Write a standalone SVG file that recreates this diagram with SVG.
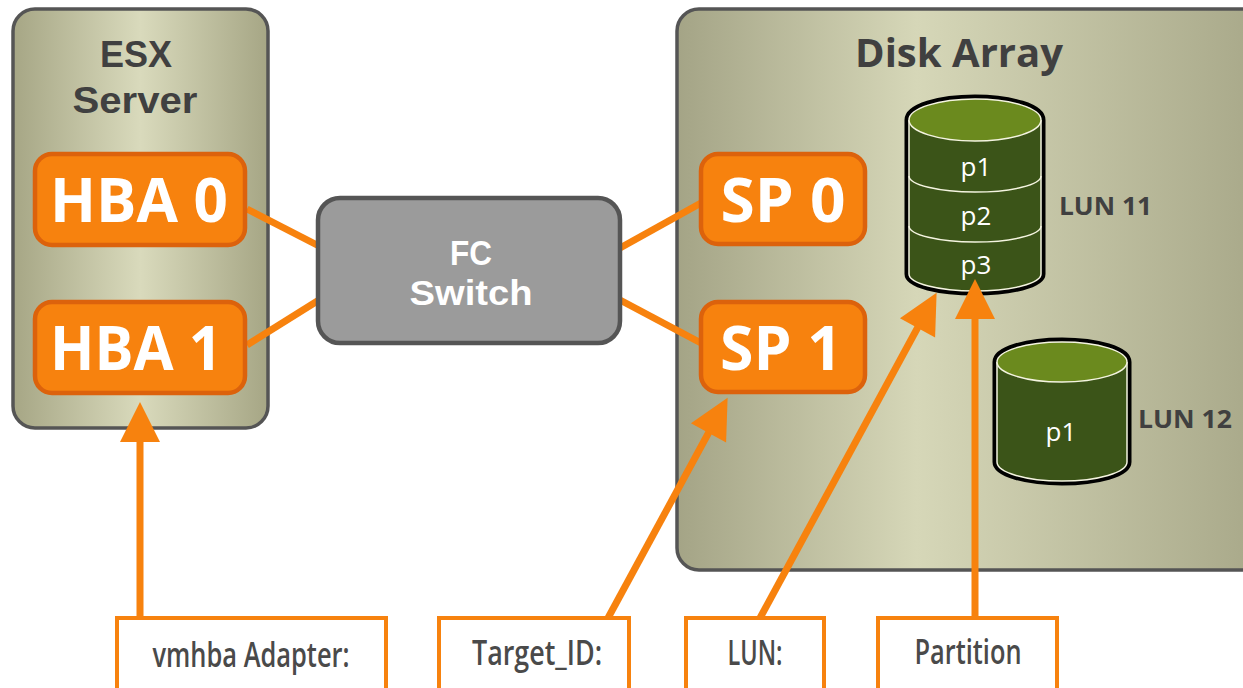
<svg xmlns="http://www.w3.org/2000/svg" width="1243" height="688" viewBox="0 0 1243 688">
<defs>
<linearGradient id="gEsx" x1="0" y1="0" x2="1" y2="0">
<stop offset="0" stop-color="#a6a685"/><stop offset="0.5" stop-color="#d9dabc"/><stop offset="1" stop-color="#a6a685"/>
</linearGradient>
<linearGradient id="gDisk" x1="0" y1="0" x2="1" y2="0">
<stop offset="0" stop-color="#a4a486"/><stop offset="0.4" stop-color="#d6d7b8"/><stop offset="1" stop-color="#a6a687"/>
</linearGradient>
<marker id="ah" viewBox="0 -20 42 40" markerWidth="42" markerHeight="40" refX="1" refY="0" orient="auto" markerUnits="userSpaceOnUse" overflow="visible">
<path d="M0,-20 L40,0 L0,20 Z" fill="#f7820e"/>
</marker>
<style>
.cont{stroke:#555;stroke-width:3.5}
.title{font-family:"Open Sans","DejaVu Sans",sans-serif;font-weight:700;fill:#404040;text-anchor:middle}
.title2{font-family:"Liberation Sans",Arial,sans-serif;font-weight:700;fill:#404040;text-anchor:middle;font-size:37px}
.ob{fill:#f7820e;stroke:#dc620c;stroke-width:4.5}
.obt{font-family:"Open Sans","DejaVu Sans",sans-serif;font-weight:700;fill:#fff;text-anchor:middle;font-size:60px}
.sw{fill:#9b9b9b;stroke:#555;stroke-width:4.5}
.swt{font-family:"Liberation Sans",Arial,sans-serif;font-weight:700;fill:#fff;text-anchor:middle;font-size:35px}
.body{fill:#3b5418}
.topf{fill:#6b8a1e;stroke:#f4f4e0;stroke-width:1.5}
.outl{fill:none;stroke:#000;stroke-width:9}
.inl{fill:none;stroke:#f4f4e0;stroke-width:1.5}
.pt{font-family:"Open Sans","DejaVu Sans",sans-serif;fill:#fff;text-anchor:middle;font-size:26px}
.lun{font-family:"Open Sans","DejaVu Sans",sans-serif;font-weight:700;fill:#404040;font-size:25px}
.line{stroke:#f7820e;stroke-width:7;fill:none}
.arr{stroke:#f7820e;stroke-width:7;fill:none;marker-end:url(#ah)}
.lb{fill:#fff;stroke:#f7820e;stroke-width:4}
.lbt{font-family:"Open Sans","DejaVu Sans",sans-serif;font-weight:600;fill:#4a4a4a;text-anchor:middle;font-size:34px}
</style>
</defs>
<rect width="1243" height="688" fill="#fff"/>

<g id="esx-server">
<rect class="cont" x="13" y="9" width="255" height="419" rx="22" fill="url(#gEsx)"/>
<text class="title2" x="136" y="67" textLength="72" lengthAdjust="spacingAndGlyphs">ESX</text>
<text class="title2" x="135" y="113" textLength="125" lengthAdjust="spacingAndGlyphs">Server</text>
</g>

<g id="disk-array">
<rect class="cont" x="677" y="9" width="600" height="561" rx="22" fill="url(#gDisk)"/>
<text class="title" x="959" y="67" font-size="40" textLength="208" lengthAdjust="spacingAndGlyphs">Disk Array</text>
</g>

<g id="connectors">
<line class="line" x1="247" y1="209" x2="319" y2="246"/>
<line class="line" x1="247" y1="345" x2="319" y2="300"/>
<line class="line" x1="620" y1="248" x2="701" y2="203"/>
<line class="line" x1="620" y1="300" x2="701" y2="343"/>
</g>

<g id="hba0">
<rect class="ob" x="35" y="154" width="210" height="91" rx="17"/>
<text class="obt" x="139" y="222" textLength="178" lengthAdjust="spacingAndGlyphs">HBA 0</text>
</g>
<g id="hba1">
<rect class="ob" x="35" y="302" width="210" height="91" rx="17"/>
<text class="obt" x="136" y="370" textLength="172" lengthAdjust="spacingAndGlyphs">HBA 1</text>
</g>

<g id="fc-switch">
<rect class="sw" x="318" y="198" width="302" height="145" rx="22"/>
<text class="swt" x="471" y="265" textLength="42" lengthAdjust="spacingAndGlyphs">FC</text>
<text class="swt" x="471" y="305" textLength="123" lengthAdjust="spacingAndGlyphs">Switch</text>
</g>

<g id="sp0">
<rect class="ob" x="701" y="154" width="164" height="90" rx="17"/>
<text class="obt" x="783" y="222" textLength="125" lengthAdjust="spacingAndGlyphs">SP 0</text>
</g>
<g id="sp1">
<rect class="ob" x="701" y="302" width="164" height="90" rx="17"/>
<text class="obt" x="781" y="370" textLength="122" lengthAdjust="spacingAndGlyphs">SP 1</text>
</g>

<g id="lun11">
<path class="outl" d="M909,120 V274 A66,17 0 0 0 1041,274 V120 A66,21 0 0 0 909,120 Z"/>
<path class="body" d="M909,120 V274 A66,17 0 0 0 1041,274 V120 Z"/>
<path class="inl" d="M909,120 V274 A66,17 0 0 0 1041,274 V120"/>
<ellipse class="topf" cx="975" cy="120" rx="66" ry="21"/>
<path class="inl" d="M909,176 A66,16 0 0 0 1041,176"/>
<path class="inl" d="M909,226 A66,16 0 0 0 1041,226"/>
<text class="pt" x="976" y="176">p1</text>
<text class="pt" x="976" y="225">p2</text>
<text class="pt" x="976" y="274">p3</text>
<text class="lun" x="1059" y="215" textLength="93" lengthAdjust="spacingAndGlyphs">LUN 11</text>
</g>

<g id="lun12">
<path class="outl" d="M997,362 V462 A65,19 0 0 0 1127,462 V362 A65,20 0 0 0 997,362 Z"/>
<path class="body" d="M997,362 V462 A65,19 0 0 0 1127,462 V362 Z"/>
<path class="inl" d="M997,362 V462 A65,19 0 0 0 1127,462 V362"/>
<ellipse class="topf" cx="1062" cy="362" rx="65" ry="20"/>
<text class="pt" x="1061" y="441">p1</text>
<text class="lun" x="1138" y="428" textLength="94" lengthAdjust="spacingAndGlyphs">LUN 12</text>
</g>

<g id="label-connectors">
<line class="arr" x1="140" y1="618" x2="140" y2="441"/>
<line class="arr" x1="608" y1="618" x2="709" y2="432"/>
<line class="arr" x1="760" y1="618" x2="918" y2="327"/>
<line class="arr" x1="975" y1="618" x2="975" y2="318"/>
</g>

<g id="label-vmhba">
<rect class="lb" x="117" y="618" width="269" height="80"/>
<text class="lbt" x="251" y="667" textLength="197" lengthAdjust="spacingAndGlyphs">vmhba Adapter:</text>
</g>
<g id="label-target">
<rect class="lb" x="439" y="618" width="190" height="80"/>
<text class="lbt" x="537" y="665" textLength="130" lengthAdjust="spacingAndGlyphs">Target_ID:</text>
</g>
<g id="label-lun">
<rect class="lb" x="686" y="618" width="138" height="80"/>
<text class="lbt" x="755" y="665" textLength="55" lengthAdjust="spacingAndGlyphs">LUN:</text>
</g>
<g id="label-partition">
<rect class="lb" x="878" y="618" width="179" height="80"/>
<text class="lbt" x="968" y="664" textLength="107" lengthAdjust="spacingAndGlyphs">Partition</text>
</g>
</svg>
